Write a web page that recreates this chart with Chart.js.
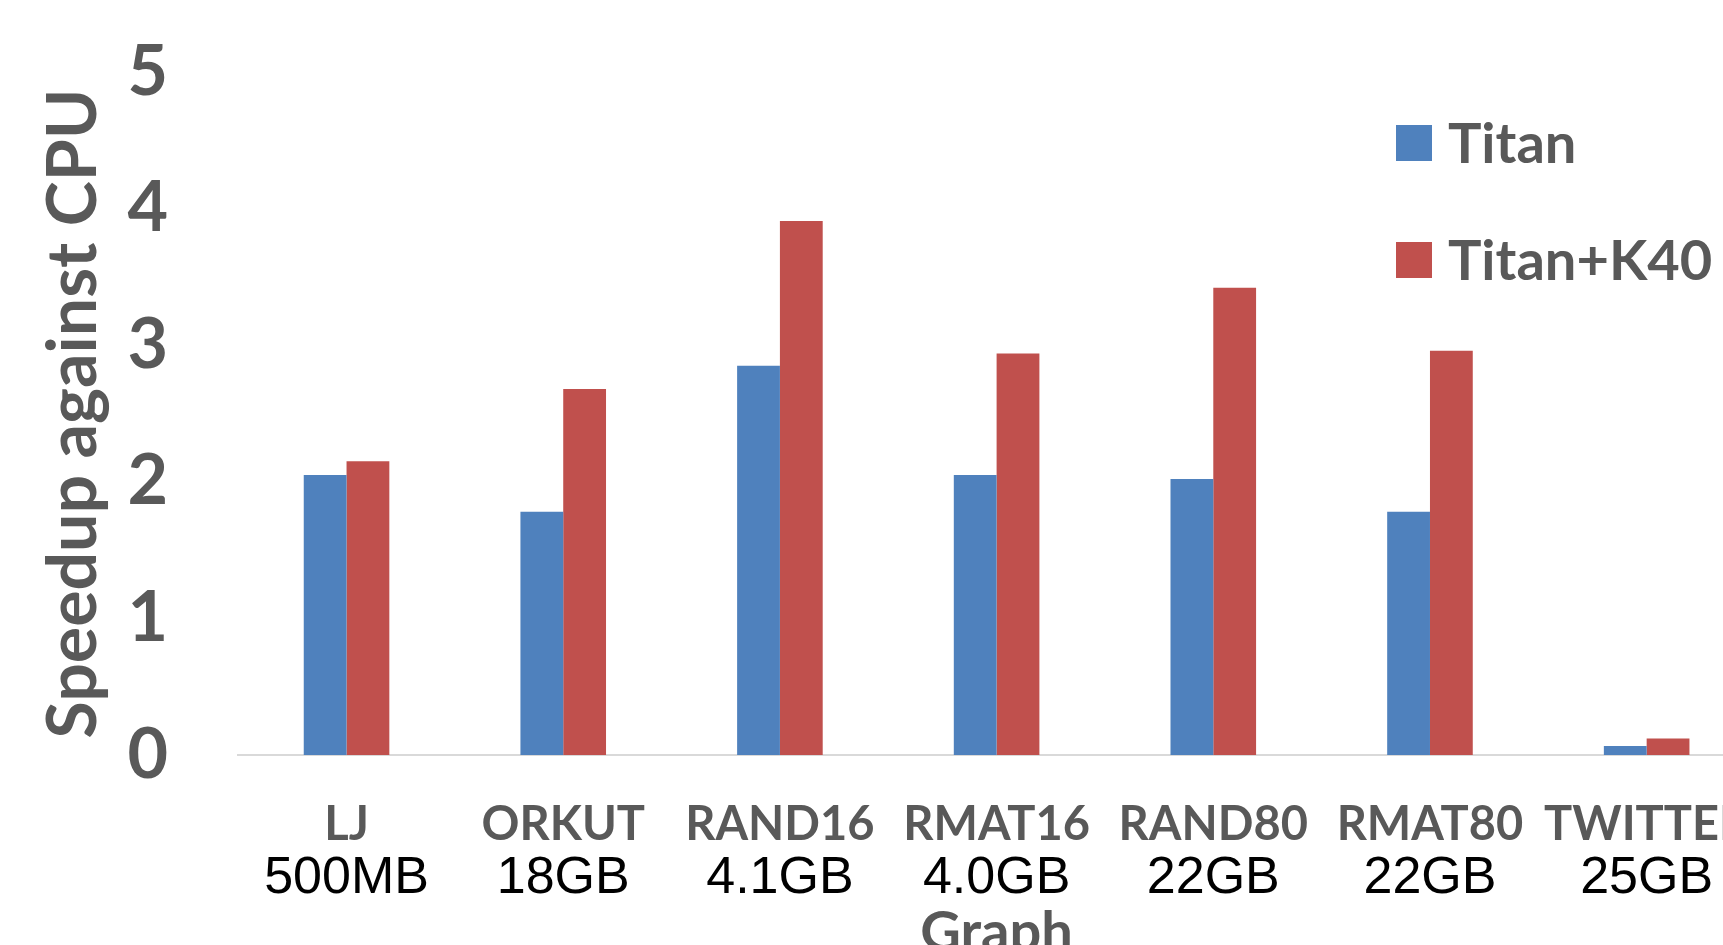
<!DOCTYPE html>
<html lang="en">

<head>
    <meta charset="UTF-8">
    <title>Speedup against CPU</title>
    <script src="https://cdn.jsdelivr.net/npm/chart.js"></script>
    <style>
        html, body {
            margin: 0;
            padding: 0;
            background-color: #fff;
            overflow: hidden;
        }

        /* the chart is wider and taller than the window on purpose: the reference is cut off at right and bottom */
        #wrap {
            position: absolute;
            left: 0;
            top: 0;
            width: 1760px;
            height: 961px;
        }
    </style>
</head>

<body>

    <div id="wrap">
        <canvas id="myChart" width="1760" height="961"></canvas>
    </div>

    <script>
        // data
        const categories = ['LJ', 'ORKUT', 'RAND16', 'RMAT16', 'RAND80', 'RMAT80', 'TWITTER'];
        const sizes = ['500MB', '18GB', '4.1GB', '4.0GB', '22GB', '22GB', '25GB'];
        const titan = [2.05, 1.78, 2.85, 2.05, 2.02, 1.78, 0.065];
        const titanK40 = [2.15, 2.68, 3.91, 2.94, 3.42, 2.96, 0.12];
        const yMin = 0;
        const yMax = 5;
        const yStep = 1;

        const grey = '#595959';

        // legend sits inside the plot, top right, stacked
        const innerLegend = {
            id: 'innerLegend',
            afterDraw(chart) {
                const ctx = chart.ctx;
                ctx.save();
                ctx.font = 'bold 56px Lato';
                ctx.textBaseline = 'middle';
                ctx.textAlign = 'left';
                chart.data.datasets.forEach((ds, i) => {
                    const y = 143 + i * 117;
                    ctx.fillStyle = ds.backgroundColor;
                    ctx.fillRect(1396, y - 18, 36, 36);
                    ctx.fillStyle = grey;
                    ctx.fillText(ds.label, 1448, y + 2);
                });
                ctx.restore();
            }
        };

        const ctx = document.getElementById('myChart').getContext('2d');

        new Chart(ctx, {
            type: 'bar',
            data: {
                labels: categories,
                datasets: [{
                    label: 'Titan',
                    data: titan,
                    backgroundColor: '#4F81BD',
                    categoryPercentage: 0.395,
                    barPercentage: 1.0
                }, {
                    label: 'Titan+K40',
                    data: titanK40,
                    backgroundColor: '#C0504D',
                    categoryPercentage: 0.395,
                    barPercentage: 1.0
                }]
            },
            options: {
                responsive: false,
                animation: false,
                layout: {
                    padding: { top: 72, left: 33, right: 5, bottom: 0 }
                },
                plugins: {
                    legend: { display: false },
                    tooltip: { enabled: false }
                },
                scales: {
                    x: {
                        type: 'category',
                        offset: true,
                        // tick marks hidden, their length only pushes the labels down
                        grid: { display: false, drawTicks: true, tickLength: 46 },
                        border: { display: true, color: '#D9D9D9', width: 2 },
                        ticks: {
                            autoSkip: false,
                            maxRotation: 0,
                            padding: 0,
                            color: grey,
                            font: { family: 'Lato', weight: 'bold', size: 47, lineHeight: 1.0 }
                        }
                    },
                    x2: {
                        type: 'category',
                        position: 'bottom',
                        weight: 1,
                        offset: true,
                        labels: sizes,
                        grid: { display: false, drawTicks: true, tickLength: 5 },
                        border: { display: false },
                        ticks: {
                            autoSkip: false,
                            maxRotation: 0,
                            padding: 0,
                            color: '#000',
                            font: { family: 'Liberation Sans', size: 52, lineHeight: 1.0 }
                        },
                        title: {
                            display: true,
                            text: 'Graph',
                            color: grey,
                            padding: { top: 0, bottom: 0 },
                            font: { family: 'Lato', weight: 'bold', size: 56, lineHeight: 1.0 }
                        }
                    },
                    y: {
                        min: yMin,
                        max: yMax,
                        grid: { display: false, drawTicks: true, tickLength: 66 },
                        border: { display: false },
                        ticks: {
                            stepSize: yStep,
                            padding: 4,
                            color: grey,
                            font: { family: 'Lato', weight: 'bold', size: 70 }
                        },
                        title: {
                            display: true,
                            text: 'Speedup against CPU',
                            color: grey,
                            padding: { top: 0, bottom: 9 },
                            font: { family: 'Lato', weight: 'bold', size: 68 }
                        }
                    }
                }
            },
            plugins: [innerLegend]
        });
    </script>

</body>

</html>
